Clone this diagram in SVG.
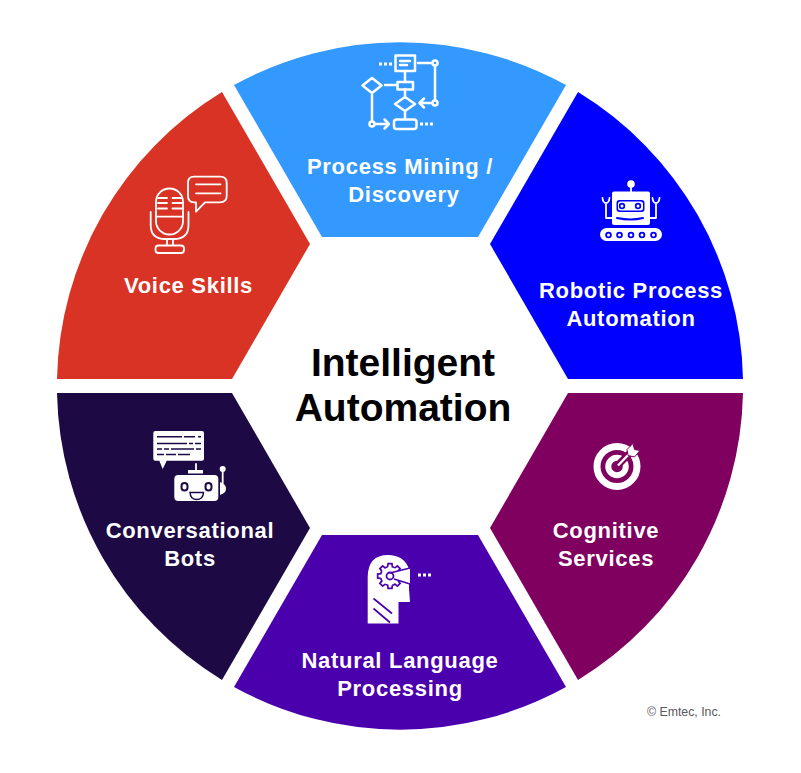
<svg xmlns="http://www.w3.org/2000/svg" width="801" height="773" viewBox="0 0 801 773">
<style>
text{font-family:"Liberation Sans",Arial,sans-serif;text-anchor:middle}
.l{font-size:22px;font-weight:700;fill:#fff;letter-spacing:.7px}
.t{font-size:39px;font-weight:700;fill:#000}
.w{fill:none;stroke:#fff;stroke-width:2.5;stroke-linecap:round;stroke-linejoin:round}
.s{fill:none;stroke:#fff;stroke-width:1.8;stroke-linecap:round;stroke-linejoin:round}
.f{fill:#fff}
.dots{fill:none;stroke:#fff;stroke-width:3;stroke-dasharray:3 2}
</style>
<defs>
<path id="tooth" d="M9.220-2.300L12.350-1.960V1.960L9.220 2.300A9.500 9.500 0 0 1 8.140 4.890" fill="none" stroke="#4b00ae" stroke-width="1.700"/>
</defs>
<rect width="801" height="773" fill="#fff"/>
<g id="node-process">
<path d="M234 85A344 344 0 0 1 566 85L478 237H322Z" fill="#3399ff"/>
<g class="w">
<rect x="395.500" y="55.500" width="19.500" height="15.500" fill="none"/>
<path d="M400 61H410M400 65H407M418 63H432M435 66V100M431 103H420M424 98.500L419.500 103L424 107.500M405 71V82M385 85H397M405 89V97M405 111V119M372 95V121M375.500 124H389M384.500 119.500L389 124L384.500 128.500"/>
<rect x="397.500" y="82" width="15.500" height="7.500"/>
<path d="M362.500 85.500L372 78L381.500 85.500L372 93ZM395 104L405 97L415 104L405 111Z"/>
<rect x="394" y="119.500" width="22.500" height="9.500" rx="2.500"/>
<circle cx="435" cy="63" r="2.500"/><circle cx="435" cy="103" r="2.500"/><circle cx="372" cy="124" r="2.500"/>
</g>
<path class="dots" d="M379 64H393M420 124H433"/>
<text class="l" x="400" y="174">Process Mining /</text>
<text class="l" x="404" y="202">Discovery</text>
</g>
<g id="node-rpa">
<path d="M578 92A344 344 0 0 1 743 379H568L490 244Z" fill="#0000ff"/>
<circle class="f" cx="631" cy="184" r="3.800"/>
<path class="s" d="M631 187V192M606 203V218H612M656 203V218H650M602.500 198Q603 203 606 203Q609 203 609.500 198M652.500 198Q653 203 656 203Q659 203 659.500 198"/>
<rect class="f" x="612" y="191.500" width="38" height="33.500" rx="2"/>
<rect x="616.500" y="200" width="28" height="12" rx="3" fill="#0000ff"/>
<rect x="618" y="201.500" width="25" height="9" rx="2.500" fill="#fff"/>
<circle cx="622" cy="206" r="3.200" fill="#0000ff"/><circle cx="638" cy="206" r="3.200" fill="#0000ff"/>
<circle class="f" cx="622" cy="206" r="1.500"/><circle class="f" cx="638" cy="206" r="1.500"/>
<path d="M617 218Q631 221 643 218" fill="none" stroke="#0000ff" stroke-width="2" stroke-linecap="round"/>
<rect class="f" x="600" y="228" width="62" height="13" rx="6.500"/>
<g fill="#fff" stroke="#0000ff" stroke-width="1.800"><circle cx="608.500" cy="235" r="2.400"/><circle cx="619.500" cy="235" r="2.400"/><circle cx="631" cy="235" r="2.400"/><circle cx="642" cy="235" r="2.400"/><circle cx="653.500" cy="235" r="2.400"/></g>
<text class="l" x="631" y="298">Robotic Process</text>
<text class="l" x="631" y="326">Automation</text>
</g>
<g id="node-cognitive">
<path d="M743 393A344 344 0 0 1 578 680L490 528L568 393Z" fill="#800060"/>
<circle cx="617" cy="466.500" r="20" fill="none" stroke="#fff" stroke-width="7"/>
<circle cx="617" cy="466.500" r="8.750" fill="none" stroke="#fff" stroke-width="6"/>
<path d="M619 464L633 450" stroke="#800060" stroke-width="7"/>
<path d="M618 465.500L632 451" stroke="#fff" stroke-width="2.400"/>
<path class="f" d="M627 449.500L633 443.500L634.500 449.500L640 450.500L634.500 457L628 455.500Z" stroke="#800060" stroke-width="1"/>
<text class="l" x="606" y="538">Cognitive</text>
<text class="l" x="606" y="566">Services</text>
</g>
<g id="node-nlp">
<path d="M322 535H478L566 687A344 344 0 0 1 234 687Z" fill="#4b00ae"/>
<path class="f" d="M367.700 623.500V577Q368 555 388 555Q404 555 409 569V589L410 602H398.500V623.500Z"/>
<g transform="translate(390 576)">
<use href="#tooth"/><use href="#tooth" transform="rotate(45)"/><use href="#tooth" transform="rotate(90)"/><use href="#tooth" transform="rotate(135)"/><use href="#tooth" transform="rotate(180)"/><use href="#tooth" transform="rotate(225)"/><use href="#tooth" transform="rotate(270)"/><use href="#tooth" transform="rotate(315)"/>
</g>
<path d="M390 573L410 568V584L394 579Z" fill="#fff"/>
<circle cx="390" cy="576" r="3.500" fill="#fff" stroke="#4b00ae" stroke-width="1.800"/>
<path d="M390 573L410 568M394 579L410 584M373.500 598.500L392 613.500M373.500 608.500L390 622.500" fill="none" stroke="#4b00ae" stroke-width="1.700"/>
<path class="dots" d="M418 575H433"/>
<text class="l" x="400" y="668">Natural Language</text>
<text class="l" x="400" y="696">Processing</text>
</g>
<g id="node-bots">
<path d="M57 393H232L310 528L222 680A344 344 0 0 1 57 393Z" fill="#1d0a45"/>
<path class="f" d="M155.300 431H202Q204 431 204 433V458.700Q204 460.700 202 460.700H166.700L162.700 469L159.300 460.700H155.300Q153.300 460.700 153.300 458.700V433Q153.300 431 155.300 431Z"/>
<path d="M157 436.700H182M184 436.700H195M198 436.700H201M157 443.500H187M189 443.500H193M195 443.500H201M157 449H162M164 449H169M171 449H194M196 449H201M157 454.500H164M166 454.500H176M178 454.500H190" fill="none" stroke="#1d0a45" stroke-width="1.500"/>
<path class="s" d="M196 464V470M222.700 472V483"/>
<rect class="f" x="188" y="470" width="15" height="3.500"/>
<rect class="f" x="174.300" y="475" width="44" height="26" rx="4"/>
<circle class="f" cx="222.700" cy="469" r="3"/>
<path class="f" d="M220 482Q226 484 226 488.500Q226 493 220 495Z"/>
<rect x="181.500" y="483" width="6" height="7.500" rx="3" fill="#fff" stroke="#1d0a45" stroke-width="2"/>
<rect x="205.500" y="483" width="6" height="7.500" rx="3" fill="#fff" stroke="#1d0a45" stroke-width="2"/>
<path d="M190 492.500H203.500Q203 499.500 196.700 499.500Q190.500 499.500 190 492.500Z" fill="#fff" stroke="#1d0a45" stroke-width="1.500"/>
<text class="l" x="190" y="538">Conversational</text>
<text class="l" x="190" y="566">Bots</text>
</g>
<g id="node-voice">
<path d="M222 92L310 244L232 379H57A344 344 0 0 1 222 92Z" fill="#d93326"/>
<g class="s">
<rect x="156" y="188.500" width="27" height="46" rx="13.500"/>
<path d="M158 198H167M172.500 198H181.500M158 203H167M172.500 203H181.500M158 208.500H167M172.500 208.500H181.500M156.500 216.700H182.500M150.700 212V225Q150.700 239 165 239H174Q188.500 239 188.500 225V212M167 239V245M173 239V245"/>
<rect x="155.500" y="245.500" width="28.500" height="7.500" rx="3"/>
<path d="M194 176.700H220Q226.700 176.700 226.700 183V196Q226.700 202.300 220 202.300H205L196 211.700V202.300H194Q188 202.300 188 196V183Q188 176.700 194 176.700Z"/>
<path d="M196 184.300H220.500M196 193.300H220.500"/>
</g>
<text class="l" x="188.500" y="293">Voice Skills</text>
</g>
<g id="node-center">
<text class="t" x="403" y="375.500">Intelligent</text>
<text class="t" x="403" y="421">Automation</text>
</g>
<g id="connectors"></g>
<text x="684" y="716" font-size="12.300" fill="#595959">© Emtec, Inc.</text>
</svg>
